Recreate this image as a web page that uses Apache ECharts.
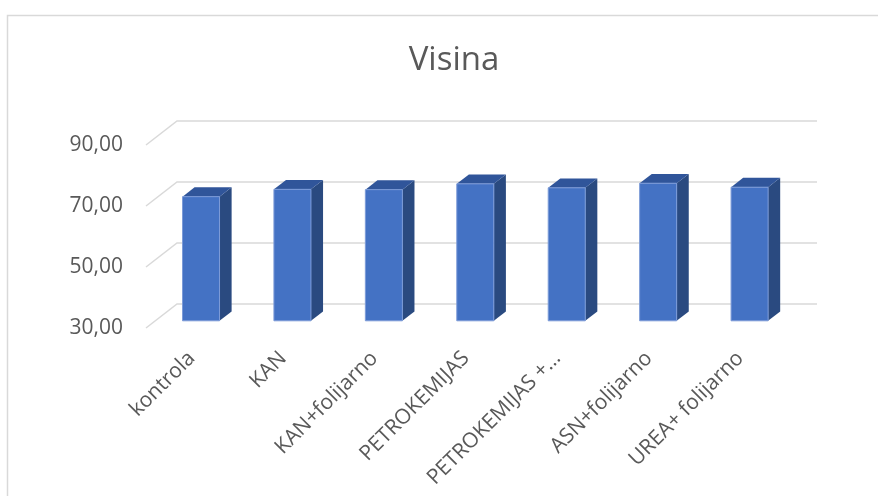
<!DOCTYPE html>
<html><head><meta charset="utf-8">
<script src="https://cdn.jsdelivr.net/npm/echarts@6/dist/echarts.min.js"></script>
<style>html,body{margin:0;padding:0;background:#fff}#c{width:878px;height:496px}</style>
</head><body><div id="c"></div>
<script>
const categories = ['kontrola', 'KAN', 'KAN+folijarno', 'PETROKEMIJAS', 'PETROKEMIJAS +…', 'ASN+folijarno', 'UREA+ folijarno'];
const values = [70.7, 73.1, 73.0, 74.9, 73.6, 75.1, 73.8];
const yTicks = [30, 50, 70, 90];
const titleText = 'Visina';

const DEPTH_X = 31, DEPTH_Y = -24;
const F1 = 0.3, F2 = 0.69;
const FONT = "'Open Sans', 'Noto Sans', sans-serif";

function renderBar(params, api) {
  const i = api.value(0), v = api.value(1);
  const top = api.coord([i, v]);
  const bot = api.coord([i, yTicks[0]]);
  const band = api.size([1, 0])[0];
  const w = band * 0.405;
  const ox = DEPTH_X * F1, oy = DEPTH_Y * F1;
  const dx = DEPTH_X * (F2 - F1), dy = DEPTH_Y * (F2 - F1);
  const x0 = top[0] - w / 2 + ox, x1 = x0 + w;
  const yT = top[1] + oy, yB = bot[1] + oy;
  return { type: 'group', children: [
    { type: 'polygon', shape: { points: [[x1, yB], [x1 + dx, yB + dy], [x1 + dx, yT + dy], [x1, yT]] }, style: { fill: '#2a4a80' } },
    { type: 'polygon', shape: { points: [[x0, yT], [x1, yT], [x1 + dx, yT + dy], [x0 + dx, yT + dy]] }, style: { fill: '#30559a' } },
    { type: 'rect', shape: { x: x0, y: yT, width: w, height: yB - yT }, style: { fill: '#4472c4', stroke: '#7c9bd8', lineWidth: 1 } }
  ] };
}

function renderGrid(params, api) {
  const v = api.value(1);
  const left = api.coord([0, v]);
  const band = api.size([1, 0])[0];
  const xl = left[0] - band / 2;
  const xr = api.coord([categories.length - 1, v])[0] + band / 2;
  return { type: 'polyline', shape: { points: [[xl, left[1]], [xl + DEPTH_X, left[1] + DEPTH_Y], [xr + DEPTH_X, left[1] + DEPTH_Y]] },
    style: { stroke: '#d9d9d9', lineWidth: 1.5, fill: null } };
}

const chart = echarts.init(document.getElementById('c'), null, { renderer: 'canvas' });
chart.setOption({
  animation: false,
  backgroundColor: '#fff',
  title: { text: titleText, left: 449, top: 39, textAlign: 'center',
    textStyle: { fontFamily: FONT, fontSize: 33, fontWeight: 'normal', color: '#595959' } },
  graphic: [{ type: 'rect', shape: { x: 7.5, y: 15.5, width: 900, height: 520 }, style: { fill: null, stroke: '#d9d9d9', lineWidth: 1.5 }, z: -10 }],
  grid: { left: 146, right: 92, top: 145, bottom: 168 },
  xAxis: { type: 'category', data: categories, boundaryGap: true,
    axisLine: { show: false }, axisTick: { show: false }, splitLine: { show: false },
    axisLabel: { rotate: 45, margin: 27, interval: 0, fontFamily: FONT, fontSize: 21, color: '#595959' } },
  yAxis: { type: 'value', min: 30, max: 90, interval: 20,
    axisLine: { show: false }, axisTick: { show: false }, splitLine: { show: false },
    axisLabel: { margin: 23, fontFamily: FONT, fontSize: 21, color: '#595959',
      formatter: v => v.toFixed(2).replace('.', ',') } },
  series: [
    { type: 'custom', renderItem: renderGrid, data: yTicks.map(v => [0, v]), encode: { x: 0, y: 1 }, z: 1, silent: true },
    { type: 'custom', renderItem: renderBar, data: values.map((v, i) => [i, v]), encode: { x: 0, y: 1 }, z: 2 }
  ]
});
</script></body></html>
